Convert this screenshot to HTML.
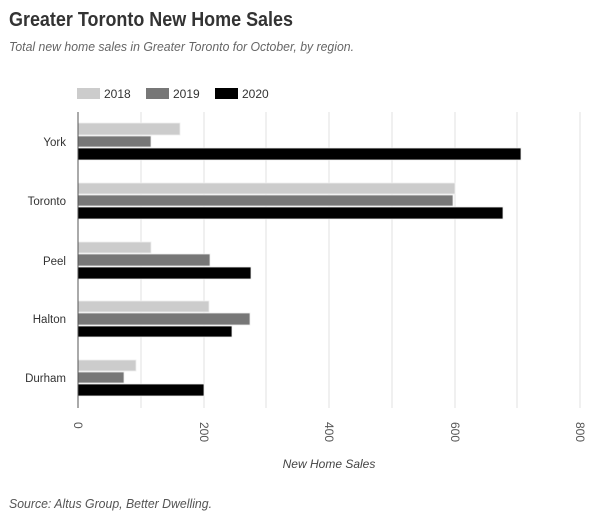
<!DOCTYPE html>
<html><head><meta charset="utf-8"><style>
body{margin:0;background:#fff;width:600px;height:515px;overflow:hidden;font-family:"Liberation Sans",sans-serif}
</style></head><body>
<svg width="600" height="515" xmlns="http://www.w3.org/2000/svg" font-family="Liberation Sans, sans-serif">
<text x="9" y="26" font-size="20" fill="#333" font-weight="bold" textLength="284" lengthAdjust="spacingAndGlyphs">Greater Toronto New Home Sales</text>
<text x="9" y="51" font-size="13" fill="#666" font-style="italic" textLength="345" lengthAdjust="spacingAndGlyphs">Total new home sales in Greater Toronto for October, by region.</text>
<rect x="77" y="88" width="23" height="11" fill="#ccc"/><text x="104" y="98" font-size="12" fill="#333">2018</text>
<rect x="146" y="88" width="23" height="11" fill="#777"/><text x="173" y="98" font-size="12" fill="#333">2019</text>
<rect x="215" y="88" width="23" height="11" fill="#000"/><text x="242" y="98" font-size="12" fill="#333">2020</text>
<g stroke="#e0e0e0" stroke-width="1">
<line x1="141" y1="112" x2="141" y2="408"/><line x1="204" y1="112" x2="204" y2="408"/><line x1="266" y1="112" x2="266" y2="408"/><line x1="329" y1="112" x2="329" y2="408"/><line x1="392" y1="112" x2="392" y2="408"/><line x1="455" y1="112" x2="455" y2="408"/><line x1="517" y1="112" x2="517" y2="408"/><line x1="580" y1="112" x2="580" y2="408"/>
</g>
<g stroke="#eee" stroke-width="0.8">
<rect x="78" y="123" width="102" height="12" fill="#ccc"/><rect x="78" y="136" width="73" height="11" fill="#777"/><rect x="78" y="148" width="443" height="12" fill="#000"/>
<rect x="78" y="183" width="377" height="11" fill="#ccc"/><rect x="78" y="195" width="375" height="11" fill="#777"/><rect x="78" y="207" width="425" height="12" fill="#000"/>
<rect x="78" y="242" width="73" height="11" fill="#ccc"/><rect x="78" y="254" width="132" height="12" fill="#777"/><rect x="78" y="267" width="173" height="12" fill="#000"/>
<rect x="78" y="301" width="131" height="11" fill="#ccc"/><rect x="78" y="313" width="172" height="12" fill="#777"/><rect x="78" y="326" width="154" height="11" fill="#000"/>
<rect x="78" y="360" width="58" height="11" fill="#ccc"/><rect x="78" y="372" width="46" height="11" fill="#777"/><rect x="78" y="384" width="126" height="12" fill="#000"/>
</g>
<line x1="78" y1="112" x2="78" y2="408" stroke="#555" stroke-width="1"/>
<g font-size="11.5" fill="#333" text-anchor="end">
<text x="66" y="146">York</text><text x="66" y="205">Toronto</text><text x="66" y="265">Peel</text><text x="66" y="323">Halton</text><text x="66" y="382">Durham</text>
</g>
<g font-size="12" fill="#555">
<text transform="translate(74,422) rotate(90)">0</text>
<text transform="translate(200,422) rotate(90)">200</text>
<text transform="translate(325,422) rotate(90)">400</text>
<text transform="translate(451,422) rotate(90)">600</text>
<text transform="translate(576,422) rotate(90)">800</text>
</g>
<text x="329" y="468" font-size="12" fill="#444" font-style="italic" text-anchor="middle">New Home Sales</text>
<text x="9" y="508" font-size="13" fill="#555" font-style="italic" textLength="203" lengthAdjust="spacingAndGlyphs">Source: Altus Group, Better Dwelling.</text>
</svg>
</body></html>
